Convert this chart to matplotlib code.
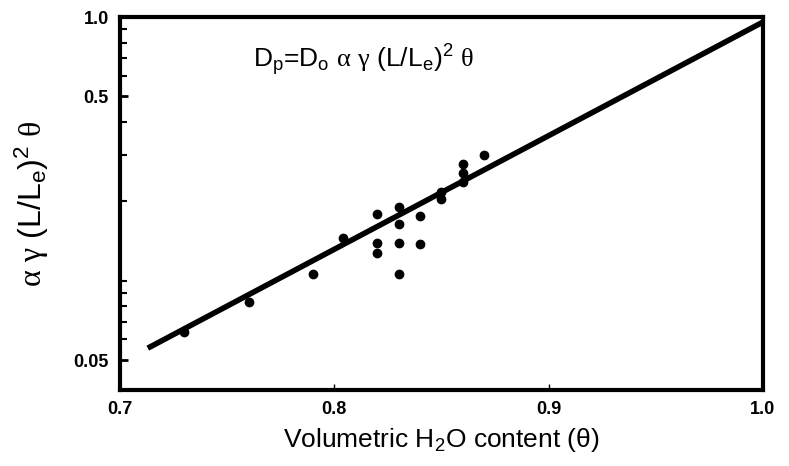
import matplotlib
matplotlib.use('Agg')
import matplotlib.pyplot as plt
from matplotlib.ticker import FixedLocator, NullFormatter

plt.rcParams['font.family'] = ['Liberation Sans', 'DejaVu Sans']
plt.rcParams['mathtext.fontset'] = 'custom'
plt.rcParams['mathtext.rm'] = 'Liberation Sans'
plt.rcParams['mathtext.it'] = 'Liberation Sans'
plt.rcParams['mathtext.sf'] = 'Liberation Serif'

# --- data ---
theta = [0.73, 0.76, 0.79, 0.804, 0.82, 0.82, 0.82, 0.83, 0.83, 0.83, 0.83,
         0.84, 0.84, 0.85, 0.85, 0.86, 0.86, 0.86, 0.87]
tort = [0.064, 0.083, 0.106, 0.145, 0.179, 0.139, 0.127, 0.190, 0.164, 0.139,
        0.106, 0.176, 0.138, 0.217, 0.204, 0.277, 0.256, 0.237, 0.299]

fit_x = [0.713, 1.0]
fit_y = [0.0555, 0.957]

x_ticks = [0.7, 0.8, 0.9, 1.0]
x_labels = ['0.7', '0.8', '0.9', '1.0']
y_ticks = [0.05, 0.5, 1.0]
y_labels = ['0.05', '0.5', '1.0']
y_minor = [0.06, 0.07, 0.08, 0.09, 0.1, 0.2, 0.3, 0.4, 0.6, 0.7, 0.8, 0.9]

fig = plt.figure(figsize=(7.89, 4.66), dpi=100)
ax = fig.add_axes([0.152, 0.163, 0.815, 0.8005])

ax.plot(fit_x, fit_y, color='black', lw=4, solid_capstyle='butt', zorder=3)
ax.plot(theta, tort, 'o', color='black', ms=6, zorder=4)

ax.set_yscale('log')
ax.set_xlim(0.7, 1.0)
ax.set_ylim(0.0385, 1.0)

ax.set_xticks(x_ticks)
ax.set_xticklabels(x_labels, fontweight='bold', fontsize=13)
ax.yaxis.set_major_locator(FixedLocator(y_ticks))
ax.set_yticklabels(y_labels, fontweight='bold', fontsize=13)
ax.yaxis.set_minor_locator(FixedLocator(y_minor))
ax.yaxis.set_minor_formatter(NullFormatter())

ax.tick_params(axis='y', which='major', direction='in', length=6, width=2, pad=8)
ax.tick_params(axis='y', which='minor', direction='in', length=5, width=1.5)
ax.tick_params(axis='x', which='major', direction='in', length=4, width=1, pad=8)
ax.tick_params(axis='x', which='minor', bottom=False)

for s in ax.spines.values():
    s.set_linewidth(3)

ax.set_xlabel('Volumetric H$_2$O content (\u03b8)', fontsize=19, labelpad=6)
ax.set_ylabel(r'$\mathsf{\alpha}\ \mathsf{\gamma}\ \mathrm{(L/L_e)^2}\ \mathsf{\theta}$',
              fontsize=23, labelpad=16)

# equation inside the plot
ax.text(0.207, 0.885,
        r'D$_p$=D$_o$ $\mathsf{\alpha}$ $\mathsf{\gamma}$ (L/L$_e$)$^2$ $\mathsf{\theta}$',
        transform=ax.transAxes, fontsize=19, ha='left', va='center')

fig.savefig('out.png', dpi=100)
